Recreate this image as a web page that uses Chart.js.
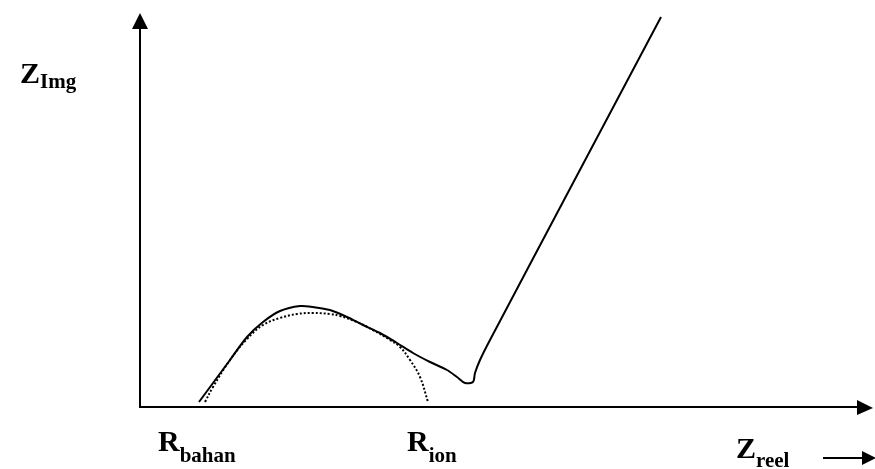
<!DOCTYPE html>
<html>
<head>
<meta charset="utf-8">
<script src="https://cdn.jsdelivr.net/npm/chart.js@4/dist/chart.umd.min.js"></script>
<style>
  html, body { margin: 0; padding: 0; background: #fff; }
  #wrap { width: 875px; height: 469px; }
</style>
</head>
<body>
<div id="wrap"><canvas id="c" width="875" height="469"></canvas></div>
<script>
// Measured impedance spectrum (real part, imaginary part)
const measuredZreel = [59, 73, 90, 107, 123, 140, 160, 173, 190, 207, 223, 240, 257, 273, 290, 307, 317, 325, 333, 335, 340, 350, 424, 521];
const measuredZimg  = [5, 24, 47, 70, 85, 96, 101, 100, 97, 90, 82, 74, 64, 54, 45, 37, 30, 24, 25, 34, 47, 67, 207, 390];

// Fitted semicircle (dotted)
const fitZreel = [65, 73, 90, 107, 123, 140, 157, 173, 190, 200, 217, 233, 250, 260, 270, 280, 288];
const fitZimg  = [5, 20, 47, 68, 82, 89, 93, 94, 93, 91, 85, 77, 67, 60, 47, 30, 5];

// Axis extents
const xMax = 733;
const yMax = 394;

const toPoints = (xs, ys) => xs.map((x, i) => ({ x: x, y: ys[i] }));

const FONT = '"Liberation Serif", "Times New Roman", serif';

// Draws a bold main letter with a bold subscript
function subLabel(ctx, main, sub, x, y, mainSize, subSize, subDrop) {
  ctx.font = 'bold ' + mainSize + 'px ' + FONT;
  ctx.fillText(main, x, y);
  const w = ctx.measureText(main).width;
  ctx.font = 'bold ' + subSize + 'px ' + FONT;
  ctx.fillText(sub, x + w, y + subDrop);
  return x + w + ctx.measureText(sub).width;
}

const axesPlugin = {
  id: 'arrowAxes',
  afterDatasetsDraw(chart) {
    const ctx = chart.ctx;
    const xs = chart.scales.x, ys = chart.scales.y;
    const x0 = xs.getPixelForValue(0), y0 = ys.getPixelForValue(0);
    const xEnd = xs.getPixelForValue(xMax), yEnd = ys.getPixelForValue(yMax);
    ctx.save();
    ctx.strokeStyle = '#000';
    ctx.fillStyle = '#000';
    ctx.lineWidth = 2;
    // y axis
    ctx.beginPath();
    ctx.moveTo(x0, y0 + 1);
    ctx.lineTo(x0, yEnd + 14);
    ctx.stroke();
    ctx.beginPath();
    ctx.moveTo(x0, yEnd);
    ctx.lineTo(x0 - 8, yEnd + 16);
    ctx.lineTo(x0 + 8, yEnd + 16);
    ctx.closePath();
    ctx.fill();
    // x axis
    ctx.beginPath();
    ctx.moveTo(x0 - 1, y0);
    ctx.lineTo(xEnd - 14, y0);
    ctx.stroke();
    ctx.beginPath();
    ctx.moveTo(xEnd, y0 + 1);
    ctx.lineTo(xEnd - 16, y0 - 7);
    ctx.lineTo(xEnd - 16, y0 + 8);
    ctx.closePath();
    ctx.fill();

    // labels
    ctx.textBaseline = 'alphabetic';
    ctx.textAlign = 'left';
    subLabel(ctx, 'Z', 'Img', 20, 83, 30, 21, 5);
    subLabel(ctx, 'R', 'bahan', 158, 451, 30, 21, 11);
    subLabel(ctx, 'R', 'ion', 407, 451, 30, 21, 11);
    subLabel(ctx, 'Z', 'reel', 736, 458, 30, 21, 9);
    // direction arrow after Z_reel
    ctx.lineWidth = 2;
    ctx.beginPath();
    ctx.moveTo(823, 458);
    ctx.lineTo(862, 458);
    ctx.stroke();
    ctx.beginPath();
    ctx.moveTo(876, 458);
    ctx.lineTo(862, 451);
    ctx.lineTo(862, 465);
    ctx.closePath();
    ctx.fill();
    ctx.restore();
  }
};

new Chart(document.getElementById('c'), {
  type: 'scatter',
  data: {
    datasets: [
      {
        data: toPoints(measuredZreel, measuredZimg),
        showLine: true,
        borderColor: '#000',
        borderWidth: 2,
        pointRadius: 0,
        tension: 0.3,
        fill: false
      },
      {
        data: toPoints(fitZreel, fitZimg),
        showLine: true,
        borderColor: '#000',
        borderWidth: 2,
        borderDash: [2, 2],
        pointRadius: 0,
        tension: 0.4,
        fill: false
      }
    ]
  },
  options: {
    responsive: false,
    animation: false,
    devicePixelRatio: 1,
    layout: { padding: { left: 140, right: 2, top: 13, bottom: 62 } },
    plugins: { legend: { display: false }, tooltip: { enabled: false } },
    scales: {
      x: { type: 'linear', min: 0, max: xMax, display: false },
      y: { type: 'linear', min: 0, max: yMax, display: false }
    }
  },
  plugins: [axesPlugin]
});
</script>
</body>
</html>
